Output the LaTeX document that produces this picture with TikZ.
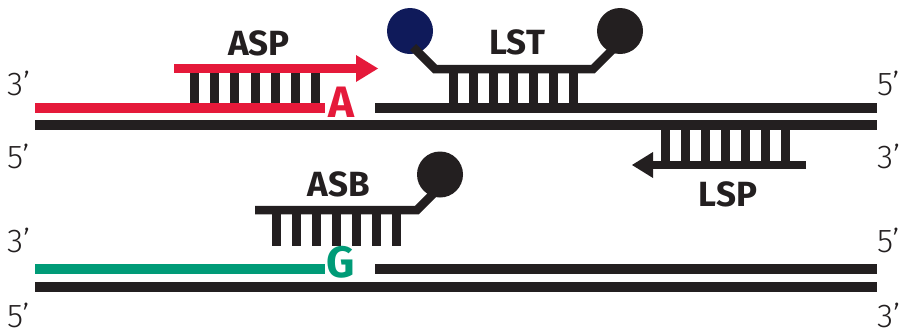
\documentclass[tikz,border=0pt]{standalone}
\usepackage{fontspec}
\setmainfont{Fira Sans}
\newfontfamily\thinfont{Fira Sans Light}
\definecolor{ink}{HTML}{231F20}
\definecolor{probered}{HTML}{E5193A}
\definecolor{probegreen}{HTML}{009B77}
\definecolor{quencher}{HTML}{0F1A5A}
\begin{document}
\begin{tikzpicture}[x=1pt,y=-1pt,
  strand/.style={line width=9.5pt, ink},
  rung/.style={line width=9pt, ink},
  backbone/.style={line width=8.5pt, ink, line join=miter},
  bead/.style={circle, fill=ink, minimum size=46pt, inner sep=0pt},
  endlabel/.style={font=\thinfont\fontsize{33}{33}\selectfont, inner sep=0pt, anchor=base west, text=ink},
  probelabel/.style={font=\bfseries\fontsize{35}{35}\selectfont, inner sep=0pt, anchor=base, text=ink},
  baselabel/.style={font=\bfseries\fontsize{44}{44}\selectfont, inner sep=0pt, anchor=base},
]
\useasboundingbox (0,0) rectangle (902,335);

% ---- upper duplex: allele-specific primer and LST probe ----
% base-pair rungs
\foreach \i in {0,...,6} \draw[rung] (194.7+20.1*\i,68.5) -- ++(0,39.5);
\foreach \i in {0,...,6} \draw[rung] (453.7+20*\i,69) -- ++(0,39);
\foreach \i in {0,...,6} \draw[rung] (665.8+20*\i,125) -- ++(0,40);

% strands
\coordinate (r1a) at (35,108);   \coordinate (r1b) at (325,108);
\coordinate (k1a) at (375,108);  \coordinate (k1b) at (877,108);
\coordinate (k2a) at (35,125);   \coordinate (k2b) at (877,125);
\draw[strand, probered] (r1a) -- (r1b);
\draw[strand] (k1a) -- (k1b);
\draw[strand] (k2a) -- (k2b);

% ASP primer arrow
\coordinate (aspa) at (174,68.5); \coordinate (aspb) at (357,68.5);
\draw[line width=9pt, probered] (aspa) -- (aspb);
\fill[probered] (356,55) -- (378,68.5) -- (356,82) -- cycle;

% LST probe with quencher and reporter
\node[bead, fill=quencher] (lstq) at (410,31) {};
\node[bead] (lstr) at (620,31) {};
\coordinate (lstqtip) at (413,47);
\coordinate (lsta) at (435,69);
\coordinate (lstb) at (593,69);
\coordinate (lstrtip) at (616,46);
\draw[backbone] (lstqtip) -- (lsta) -- (lstb) -- (lstrtip);

% LSP primer arrow
\coordinate (lspa) at (806,165); \coordinate (lspb) at (652,165);
\draw[backbone] (lspa) -- (lspb);
\fill[ink] (653,152) -- (632,165) -- (653,178) -- cycle;

% ---- lower duplex: ASB probe ----
\foreach \i in {0,...,6} \draw[rung] (276.2+20*\i,210) -- (276.2+20*\i,245.5);
\node[bead] (asbr) at (440,174.5) {};
\coordinate (asba) at (255,210);
\coordinate (asbb) at (417,210);
\coordinate (asbtip) at (437,190);
\draw[backbone] (asba) -- (asbb) -- (asbtip);

\coordinate (g1a) at (35,269);   \coordinate (g1b) at (325,269);
\coordinate (k3a) at (375,269);  \coordinate (k3b) at (877,269);
\coordinate (k4a) at (35,287);   \coordinate (k4b) at (877,287);
\draw[strand, probegreen] (g1a) -- (g1b);
\draw[strand] (k3a) -- (k3b);
\draw[strand] (k4a) -- (k4b);

% ---- labels ----
\node[probelabel] (asplbl) at (259,55) {ASP};
\node[probelabel] (lstlbl) at (517,54) {LST};
\node[probelabel] (lsplbl) at (728,206) {LSP};
\node[probelabel] (asblbl) at (339,196) {ASB};
\node[baselabel, text=probered] (baseA) at (341,117) {A};
\node[baselabel, text=probegreen] (baseG) at (341,277) {G};

\node[endlabel] (l1) at (7,95)  {3’};
\node[endlabel] (l2) at (7,168) {5’};
\node[endlabel] (l3) at (7,252) {3’};
\node[endlabel] (l4) at (7,327) {5’};
\node[endlabel] (r1) at (877,95)  {5’};
\node[endlabel] (r2) at (877,168) {3’};
\node[endlabel] (r3) at (877,252) {5’};
\node[endlabel] (r4) at (877,327) {3’};
\end{tikzpicture}
\end{document}
